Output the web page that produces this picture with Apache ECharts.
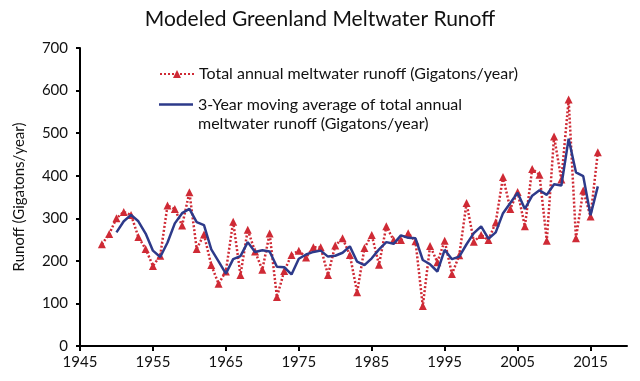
<!DOCTYPE html>
<html>
<head>
<meta charset="utf-8">
<script src="https://cdn.jsdelivr.net/npm/echarts@6/dist/echarts.min.js"></script>
<style>
html,body{margin:0;padding:0;background:#fff;}
#chart{width:640px;height:381px;}
</style>
</head>
<body>
<div id="chart"></div>
<script>
var years = [];
for (var y = 1948; y <= 2016; y++) years.push(y);

var annualRunoff = [
  239, 263, 300, 315, 308, 256, 228, 188, 212, 330,
  322, 283, 361, 228, 262, 190, 146, 175, 292, 167,
  273, 222, 179, 264, 115, 176, 214, 224, 208, 232,
  232, 167, 236, 253, 214, 126, 230, 261, 191, 281,
  249, 249, 265, 246, 94, 235, 197, 247, 169, 213,
  336, 245, 261, 249, 290, 397, 322, 362, 281, 416,
  402, 247, 492, 391, 579, 253, 365, 304, 455
];

var maYears = [];
for (var y2 = 1950; y2 <= 2016; y2++) maYears.push(y2);

var movingAverage = [
  267, 293, 308, 293, 264, 224, 209, 243, 288, 312,
  322, 291, 284, 227, 199, 170, 204, 211, 244, 221,
  225, 222, 186, 185, 168, 205, 215, 221, 224, 210,
  212, 219, 234, 198, 190, 206, 227, 244, 240, 260,
  254, 253, 202, 192, 175, 226, 204, 210, 239, 265,
  281, 252, 267, 312, 336, 360, 322, 353, 366, 355,
  380, 377, 487, 408, 399, 307, 375
];

var xTicks = [1945, 1955, 1965, 1975, 1985, 1995, 2005, 2015];
var yTicks = [0, 100, 200, 300, 400, 500, 600, 700];

var nameAnnual = 'Total annual meltwater runoff (Gigatons/year)';
var nameMA = '3-Year moving average of total annual';

var FONT = 'Lato';
var RED = '#cf2a35';
var BLUE = '#2d3a8a';

var chart = echarts.init(document.getElementById('chart'), null, {renderer: 'canvas'});
chart.setOption({
  animation: false,
  backgroundColor: '#fff',
  title: {
    text: 'Modeled Greenland Meltwater Runoff',
    left: 'center',
    top: 4,
    textStyle: {fontFamily: FONT, fontSize: 21, fontWeight: 'normal', color: '#111'}
  },
  legend: [{
    data: [nameAnnual],
    orient: 'vertical',
    left: 154,
    top: 61,
    itemWidth: 34,
    itemHeight: 10,
    textStyle: {fontFamily: FONT, fontSize: 16, color: '#111'}
  }, {
    data: [{name: nameMA, icon: 'rect'}],
    orient: 'vertical',
    left: 154,
    top: 71,
    itemWidth: 34,
    itemHeight: 2.5,
    itemStyle: {color: BLUE},
    textStyle: {fontFamily: FONT, fontSize: 16, color: '#111', lineHeight: 19},
    formatter: function (n) {
      return '\n' + n + '\nmeltwater runoff (Gigatons/year)';
    }
  }],
  grid: {left: 80, right: 13, top: 48, bottom: 35, containLabel: false},
  xAxis: {
    type: 'value',
    min: xTicks[0],
    max: 2020,
    interval: 10,
    axisLine: {lineStyle: {color: '#000', width: 2}},
    axisTick: {show: true, length: 5, lineStyle: {color: '#000', width: 2}},
    axisLabel: {
      fontFamily: FONT, fontSize: 15, color: '#111', margin: 9,
      showMaxLabel: false,
      formatter: function (v) { return xTicks.indexOf(v) >= 0 ? String(v) : ''; }
    },
    splitLine: {show: false}
  },
  yAxis: {
    type: 'value',
    min: yTicks[0],
    max: yTicks[yTicks.length - 1],
    interval: 100,
    name: 'Runoff (Gigatons/year)',
    nameLocation: 'middle',
    nameGap: 53,
    nameTextStyle: {fontFamily: FONT, fontSize: 15, color: '#111'},
    axisLine: {show: true, lineStyle: {color: '#000', width: 2}},
    axisTick: {show: true, length: 4, lineStyle: {color: '#000', width: 2}},
    axisLabel: {fontFamily: FONT, fontSize: 15, color: '#111', margin: 12},
    splitLine: {show: false}
  },
  series: [{
    name: nameAnnual,
    type: 'line',
    data: years.map(function (yr, i) { return [yr, annualRunoff[i]]; }),
    symbol: 'triangle',
    symbolSize: 8,
    showAllSymbol: true,
    itemStyle: {color: RED},
    lineStyle: {color: RED, width: 2.5, type: [2, 2]},
    z: 2
  }, {
    name: nameMA,
    type: 'line',
    data: maYears.map(function (yr, i) { return [yr, movingAverage[i]]; }),
    symbol: 'none',
    itemStyle: {color: BLUE},
    lineStyle: {color: BLUE, width: 2.5},
    z: 3
  }]
});
</script>
</body>
</html>
